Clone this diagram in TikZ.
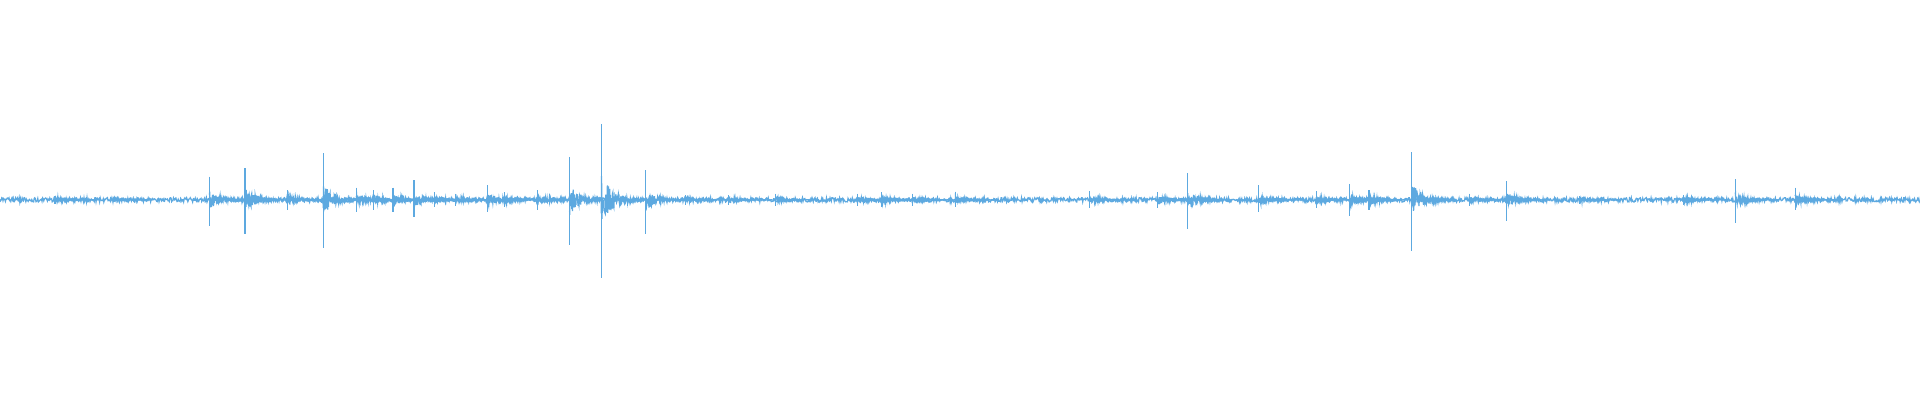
\documentclass[tikz,border=0pt]{standalone}
\usepackage{tikz}
\definecolor{wave}{HTML}{5DA9E0}
\begin{document}
\begin{tikzpicture}[x=0.012245cm, y=0.012245cm]
    \useasboundingbox (0,0) rectangle (1568,326.7);
    \pgfmathsetseed{7}
    % background noise
    \draw[wave, line width=0.35pt] plot[domain=0:1568, samples=3200] (\x, {163.5+1.8*rand});
    % bursts: position / peak up / peak down
    \foreach \sx/\up/\dn in {45/3/3, 90/2/2, 171/19/21, 200/26/28, 235/8/8, 264/38/39, 291/10/10,
        305/8/8, 321/10/10, 338/16/14, 355/6/6, 372/5/5, 398/12/10, 412/6/6, 439/8/8, 465/35/37, 491/62/64, 527/24/28,
        560/4/4, 595/4/4, 633/5/5, 700/5/5, 720/6/6, 745/5/5, 780/6/6, 890/7/7, 945/6/7, 970/22/24, 1028/12/10,
        1075/7/7, 1102/13/13, 1118/8/8, 1153/39/42, 1200/5/5, 1230/15/17, 1290/3/3, 1375/4/4, 1417/17/19, 1466/10/8} {
        \draw[wave, line width=0.35pt] (\sx,163.5+\up) -- (\sx,163.5-\dn);
        \draw[wave, line width=0.35pt] plot[domain=0:36, samples=130] ({\sx+\x}, {163.5+(0.3*\up+1.5)*exp(-\x/10)*rand});
    }
\end{tikzpicture}
\end{document}
